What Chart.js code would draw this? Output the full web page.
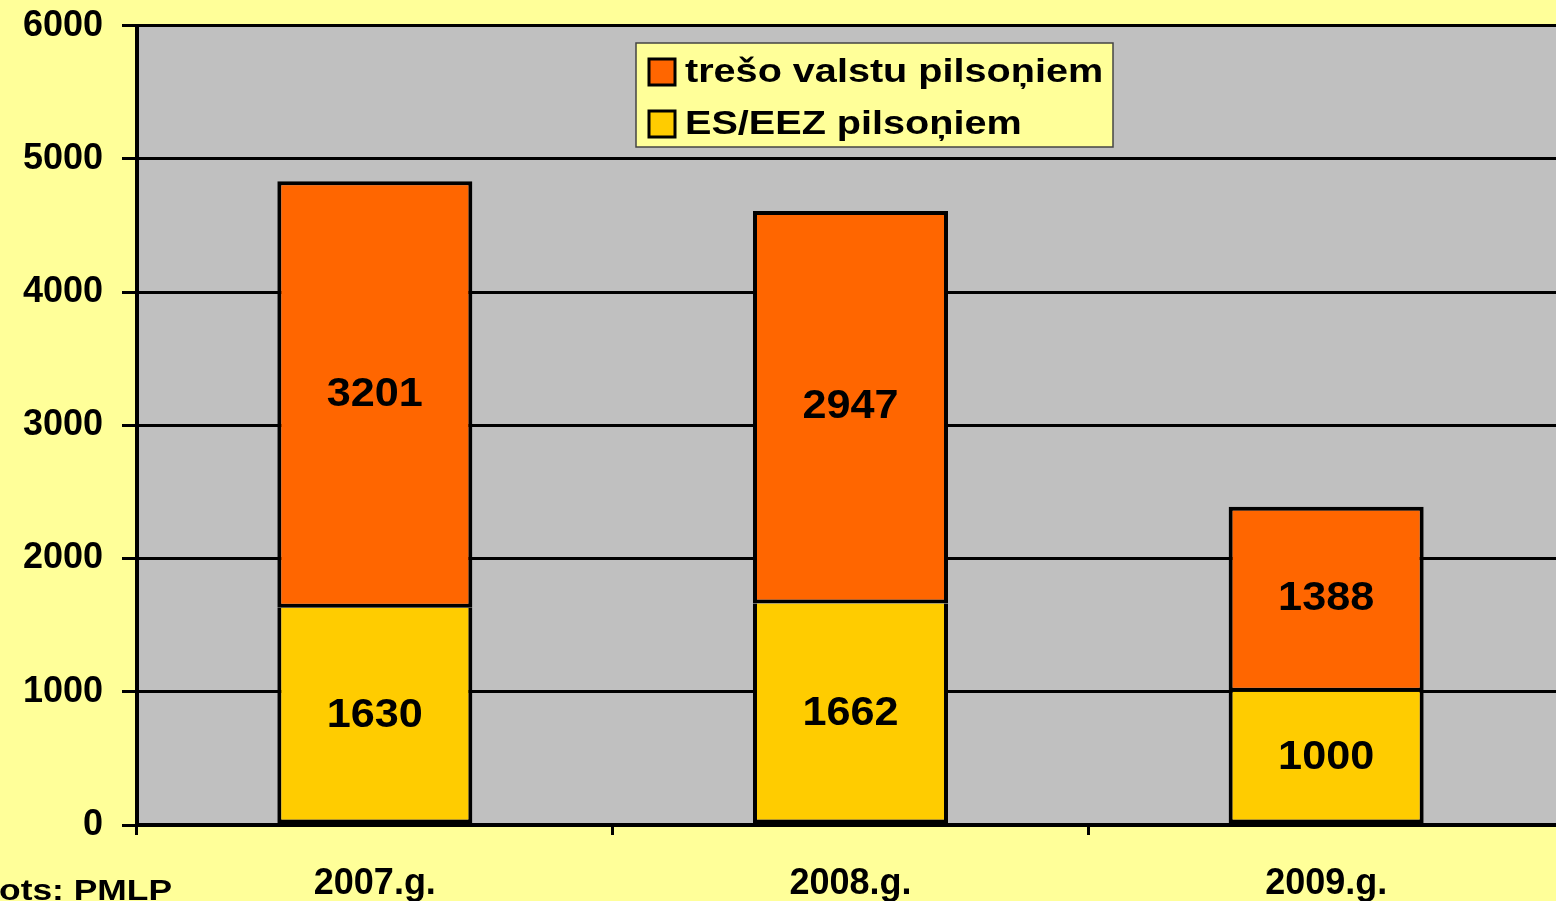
<!DOCTYPE html>
<html>
<head>
<meta charset="utf-8">
<script src="https://cdn.jsdelivr.net/npm/chart.js@4/dist/chart.umd.min.js"></script>
<style>
  html, body { margin: 0; padding: 0; background: #FFFF99; overflow: hidden; }
  /* canvas shifted up a bit so the plot top lands where the original has it */
  #wrap { position: absolute; left: 0; top: -15px; width: 1564px; height: 916px; }
</style>
</head>
<body>
<div id="wrap"><canvas id="chart"></canvas></div>
<script>
// data
const years = ["2007.g.", "2008.g.", "2009.g."];
const esEez = [1630, 1662, 1000];      // ES/EEZ pilsoņiem
const tresoValstu = [3201, 2947, 1388]; // trešo valstu pilsoņiem
const yTicks = [0, 1000, 2000, 3000, 4000, 5000, 6000];

const FONT = "'Liberation Sans', Arial, sans-serif";
const OFF = 15; // canvas offset above the page

// the original text is a bit stretched sideways
function stretchText(ctx, text, x, y, sx) {
    ctx.save();
    ctx.translate(x, y);
    ctx.scale(sx, 1);
    ctx.fillText(text, 0, 0);
    ctx.restore();
}

// grey plot background
const plotBg = {
    id: 'plotBg',
    beforeDraw(chart) {
        const a = chart.chartArea;
        const ctx = chart.ctx;
        ctx.save();
        ctx.fillStyle = '#C0C0C0';
        ctx.fillRect(a.left, a.top, a.right - a.left, a.bottom - a.top);
        ctx.restore();
    }
};

// numbers in the middle of each bar segment
const valueLabels = {
    id: 'valueLabels',
    afterDatasetsDraw(chart) {
        const ctx = chart.ctx;
        ctx.save();
        ctx.font = "bold 40px " + FONT;
        ctx.fillStyle = '#000';
        ctx.textAlign = 'center';
        ctx.textBaseline = 'middle';
        chart.data.datasets.forEach((ds, i) => {
            chart.getDatasetMeta(i).data.forEach((bar, j) => {
                stretchText(ctx, String(ds.data[j]), bar.x, (bar.y + bar.base) / 2, 1.08);
            });
        });
        ctx.restore();
    }
};

// boxed legend inside the plot + source note
const boxLegend = {
    id: 'boxLegend',
    afterDraw(chart) {
        const ctx = chart.ctx;
        ctx.save();
        ctx.translate(0, OFF);
        ctx.fillStyle = '#FFFF99';
        ctx.fillRect(636, 43, 477, 104);
        ctx.strokeStyle = '#444';
        ctx.lineWidth = 1.5;
        ctx.strokeRect(636, 43, 477, 104);
        // reversed order: top series first
        const items = chart.data.datasets.slice().reverse();
        ctx.font = "bold 33px " + FONT;
        ctx.textBaseline = 'middle';
        ctx.textAlign = 'left';
        items.forEach((ds, k) => {
            const cy = 72 + k * 52;
            ctx.fillStyle = ds.backgroundColor;
            ctx.fillRect(649, cy - 13, 26, 26);
            ctx.strokeStyle = '#000';
            ctx.lineWidth = 3;
            ctx.strokeRect(649, cy - 13, 26, 26);
            ctx.fillStyle = '#000';
            stretchText(ctx, ds.label, 685, cy + 1, 1.2);
        });
        // source note, cut at the left edge like in the original
        ctx.font = "bold 29px " + FONT;
        ctx.textAlign = 'right';
        ctx.textBaseline = 'top';
        stretchText(ctx, "Avots: PMLP", 172, 877, 1.22);
        ctx.restore();
    }
};

new Chart(document.getElementById('chart'), {
    type: 'bar',
    data: {
        labels: years,
        datasets: [
            {
                label: 'ES/EEZ pilsoņiem',
                data: esEez,
                backgroundColor: '#FFCC00',
                borderColor: '#000',
                borderWidth: 4,
                borderSkipped: 'top'
            },
            {
                label: 'trešo valstu pilsoņiem',
                data: tresoValstu,
                backgroundColor: '#FF6600',
                borderColor: '#000',
                borderWidth: 4,
                borderSkipped: false
            }
        ]
    },
    options: {
        responsive: true,
        maintainAspectRatio: false,
        animation: false,
        datasets: { bar: { categoryPercentage: 1, barPercentage: 0.41 } },
        layout: { padding: { top: 11, right: 0, left: 0, bottom: 0 } },
        plugins: {
            legend: { display: false },
            tooltip: { enabled: false },
            title: { display: false }
        },
        scales: {
            x: {
                stacked: true,
                afterFit(scale) { scale.height = 76; },
                grid: {
                    drawOnChartArea: false,
                    drawTicks: true,
                    tickLength: 10,
                    tickColor: '#000',
                    tickWidth: 3,
                    offset: true
                },
                border: { display: true, color: '#000', width: 4 },
                ticks: {
                    color: '#000',
                    padding: 27,
                    font: { family: FONT, size: 36, weight: 'bold' }
                }
            },
            y: {
                stacked: true,
                min: 0,
                max: 6000,
                afterFit(scale) { scale.width = 137; },
                afterBuildTicks(scale) { scale.ticks = yTicks.map(v => ({ value: v })); },
                grid: {
                    color: '#000',
                    lineWidth: 3,
                    drawTicks: true,
                    tickLength: 15,
                    tickColor: '#000',
                    tickWidth: 3
                },
                border: { display: true, color: '#000', width: 4 },
                ticks: {
                    color: '#000',
                    padding: 19,
                    font: { family: FONT, size: 36, weight: 'bold' },
                    callback: v => String(v)
                }
            }
        }
    },
    plugins: [plotBg, valueLabels, boxLegend]
});
</script>
</body>
</html>
